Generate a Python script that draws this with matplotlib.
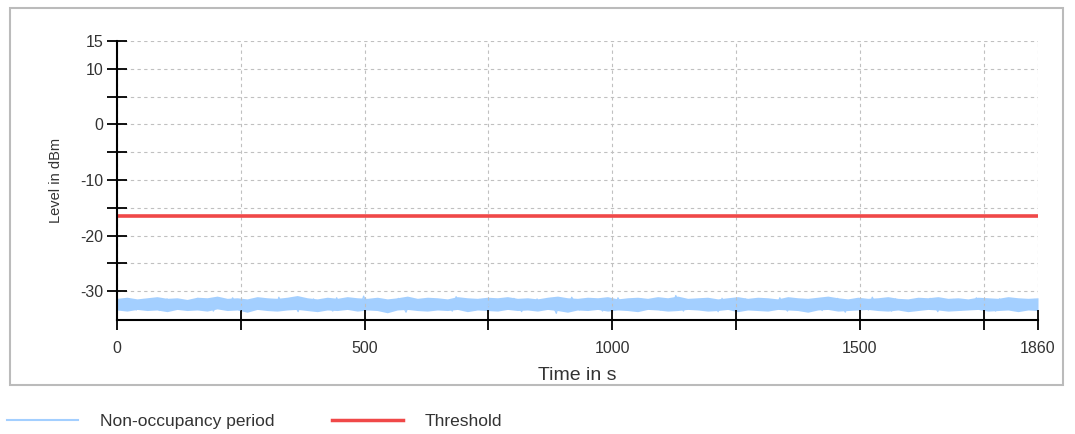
import matplotlib.pyplot as plt
import matplotlib.patches as patches
from matplotlib.lines import Line2D
import numpy as np

plt.rcParams['font.family'] = ['Liberation Sans', 'DejaVu Sans']

level = [
    -32.1, -33.2, -31.6, -32.8, -31.9, -33.4, -32.3, -31.5, -33.0, -32.6, -31.8, -33.5, -32.2, -31.4, -32.9, -33.1, -31.7, -32.5, -33.3, -31.9,
    -32.7, -31.3, -33.2, -32.0, -31.6, -33.6, -32.4, -31.8, -32.9, -33.0, -31.2, -32.6, -33.4, -31.9, -32.3, -33.1, -31.5, -32.8, -33.3, -31.7,
    -32.2, -33.5, -31.1, -32.7, -33.0, -31.8, -32.4, -33.7, -31.6, -32.1, -33.2, -31.4, -32.9, -33.3, -31.9, -32.5, -33.6, -31.2, -32.8, -32.0,
    -33.1, -31.7, -32.3, -33.4, -30.9, -32.6, -33.0, -31.5, -32.2, -33.5, -31.8, -32.7, -33.2, -31.3, -32.4, -33.8, -31.9, -32.1, -33.0, -31.6,
    -32.9, -33.3, -31.4, -32.5, -33.1, -31.8, -32.2, -33.6, -31.0, -32.7, -33.2, -31.7, -32.4, -33.4, -31.5, -32.9, -33.0, -31.9, -32.3, -33.5,
    -31.6, -32.8, -33.1, -31.3, -32.5, -33.7, -31.8, -32.0, -33.3, -31.4, -32.6, -33.0, -31.9, -32.4, -34.0, -31.6, -32.7, -33.2, -31.1, -32.3,
    -33.4, -31.7, -32.9, -33.0, -31.5, -32.2, -33.6, -31.8, -32.6, -33.1, -31.2, -32.4, -33.3, -31.9, -32.8, -33.5, -31.4, -32.1, -33.0, -31.7,
    -32.5, -33.4, -31.6, -32.9, -33.2, -30.8, -32.3, -33.6, -31.8, -32.0, -33.1, -31.5, -32.7, -33.3, -31.9, -32.4, -33.7, -31.3, -32.6, -33.0,
    -31.7, -32.2, -33.5, -31.4, -32.8, -33.1, -31.9, -32.5, -33.4, -31.6, -32.1, -33.2, -31.2, -32.7, -33.6, -31.8, -32.3, -33.0, -31.5, -32.9,
    -33.3, -31.9, -32.4, -33.5, -31.6, -32.0, -33.2, -31.3, -32.6, -33.8, -31.7, -32.2, -33.1, -31.5, -32.8, -33.4, -31.1, -32.5, -33.0, -31.8,
    -32.3, -33.6, -31.4, -32.7, -33.2, -31.9, -32.1, -33.5, -31.6, -32.9, -33.0, -31.3, -32.4, -33.7, -31.8, -32.6, -33.1, -31.5, -32.2, -33.4,
    -31.7, -32.8, -33.3, -31.2, -32.5, -33.0, -31.9, -32.3, -33.6, -31.4, -32.7, -33.2, -31.6, -32.0, -33.5, -31.8, -32.6, -33.1, -31.5, -32.4,
]
# upper / lower edge of the dense trace, one reading per 20 s
level_max = [
    -31.3, -31.1, -31.4, -31.2, -31.0, -31.3, -31.2, -31.5, -31.1, -31.2, -30.9, -31.3, -31.2, -31.4, -31.0, -31.2, -31.3, -31.1, -30.8, -31.2,
    -31.4, -31.1, -31.3, -31.0, -31.2, -31.3, -31.1, -31.4, -31.2, -30.9, -31.3, -31.1, -31.2, -31.4, -31.0, -31.2, -31.3, -31.1, -31.2, -31.0,
    -31.3, -31.2, -31.4, -31.1, -30.9, -31.2, -31.3, -31.1, -31.2, -31.0, -31.4, -31.2, -31.1, -31.3, -31.0, -31.2, -30.9, -31.3, -31.2, -31.1,
    -31.4, -31.2, -31.0, -31.3, -31.1, -31.2, -31.4, -31.0, -31.2, -31.3, -31.1, -30.9, -31.2, -31.4, -31.1, -31.3, -31.2, -31.0, -31.3, -31.4,
    -31.1, -31.2, -31.0, -31.3, -31.2, -31.4, -31.1, -31.2, -31.3, -31.0, -31.2, -31.3, -31.2,
]
level_min = [
    -33.4, -33.6, -33.3, -33.5, -33.4, -33.7, -33.3, -33.5, -33.4, -33.6, -33.2, -33.5, -33.4, -33.8, -33.3, -33.5, -33.6, -33.4, -33.3, -33.5,
    -33.7, -33.4, -33.5, -33.3, -33.6, -33.4, -33.5, -33.9, -33.4, -33.3, -33.5, -33.6, -33.4, -33.5, -33.3, -33.7, -33.4, -33.5, -33.6, -33.3,
    -33.5, -33.4, -33.6, -33.3, -33.5, -33.8, -33.4, -33.5, -33.3, -33.6, -33.4, -33.5, -33.7, -33.3, -33.4, -33.6, -33.5, -33.3, -33.4, -33.6,
    -33.5, -33.3, -33.7, -33.4, -33.5, -33.6, -33.3, -33.4, -33.5, -33.8, -33.4, -33.3, -33.6, -33.5, -33.4, -33.3, -33.5, -33.6, -33.4, -33.7,
    -33.5, -33.3, -33.4, -33.6, -33.5, -33.4, -33.3, -33.6, -33.5, -33.4, -33.7, -33.4, -33.5,
]
duration = 1860
threshold = -16.4

y_ticks = [-30, -25, -20, -15, -10, -5, 0, 5, 10, 15]
y_labels = ['-30', '', '-20', '', '-10', '', '0', '', '10', '15']
x_ticks = [0, 250, 500, 750, 1000, 1250, 1500, 1750, 1860]
x_labels = ['0', '', '500', '', '1000', '', '1500', '', '1860']

blue = '#a3cfff'
red = '#f04848'
txt = '#333333'

times = np.linspace(0, duration, len(level))
env_times = np.linspace(0, duration, len(level_max))

fig = plt.figure(figsize=(10.75, 4.34), dpi=100)
ax = fig.add_axes([117 / 1075, 1 - 320 / 434, (1038 - 117) / 1075, (320 - 41) / 434])

ax.fill_between(env_times, level_min, level_max, color=blue, lw=0)
ax.plot(times, level, color=blue, lw=0.9)
ax.axhline(threshold, color=red, lw=2.6)

ax.set_xlim(0, duration)
ax.set_ylim(-35.2, 15)
ax.set_yticks(y_ticks)
ax.set_yticklabels(y_labels)
ax.set_xticks(x_ticks)
ax.set_xticklabels(x_labels)

ax.grid(True, color='#c0c0c0', linestyle=(0, (3, 3)), lw=0.8)
for s in ['top', 'right']:
    ax.spines[s].set_visible(False)
for s in ['left', 'bottom']:
    ax.spines[s].set_linewidth(1.5)
ax.tick_params(axis='both', direction='inout', length=14, width=1.3,
               labelsize=11.5, labelcolor=txt)
ax.tick_params(axis='y', pad=3)
ax.tick_params(axis='x', pad=8)
ax.set_xlabel('Time in s', fontsize=14, color=txt, labelpad=8)
ax.set_ylabel('Level in dBm', fontsize=10.5, color=txt, labelpad=12)

# outer frame
fig.patches.append(patches.Rectangle((10 / 1075, 1 - 385 / 434), 1053 / 1075, 377 / 434,
                                     transform=fig.transFigure, fill=False,
                                     edgecolor='#bbbbbb', lw=1.5))

handles = [Line2D([], [], color=blue, lw=1.5),
           Line2D([], [], color=red, lw=2.5)]
fig.legend(handles, ['Non-occupancy period', 'Threshold'], loc='center left',
           bbox_to_anchor=(7 / 1075, 13 / 434), ncol=2, frameon=False,
           fontsize=12.5, handlelength=4.1, handletextpad=1.25, columnspacing=3.3,
           borderpad=0, borderaxespad=0, labelcolor=txt)

fig.savefig('out.png', dpi=100)
